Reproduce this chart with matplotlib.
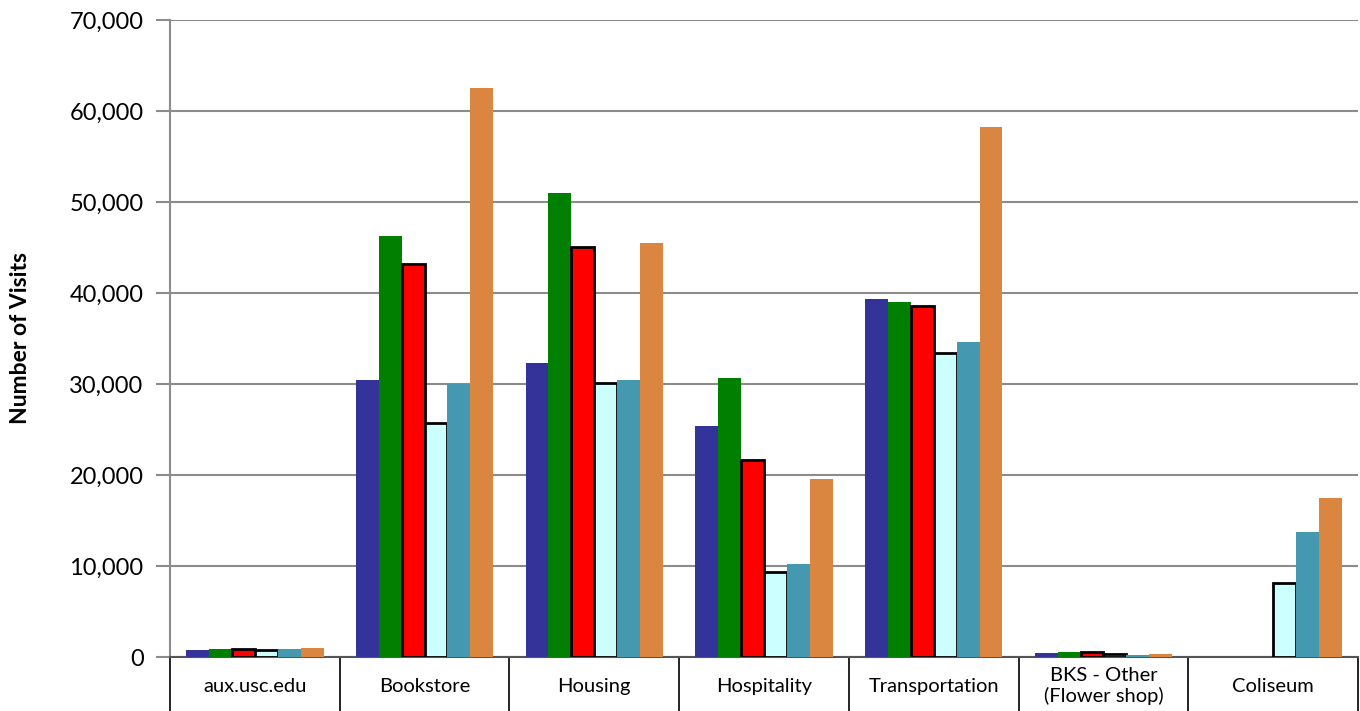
import numpy as np
import matplotlib.pyplot as plt
import matplotlib.ticker as ticker

plt.rcParams['font.family'] = ['Lato', 'DejaVu Sans']

categories = ['aux.usc.edu', 'Bookstore', 'Housing', 'Hospitality',
              'Transportation', 'BKS - Other\n(Flower shop)', 'Coliseum']

# six series, one per bar colour (left to right inside each group)
s1 = [800, 30450, 32300, 25400, 39350, 400, 0]
s2 = [900, 46250, 51000, 30700, 39050, 550, 0]
s3 = [900, 43200, 45050, 21650, 38550, 600, 0]
s4 = [800, 25700, 30100, 9300, 33400, 300, 8150]
s5 = [900, 30000, 30450, 10200, 34600, 200, 13700]
s6 = [1000, 62550, 45500, 19600, 58250, 300, 17500]
series = [s1, s2, s3, s4, s5, s6]

col = ['#343399', '#007f00', '#ff0000', '#ccffff', '#4499b0', '#db8640']
edge = [None, None, 'black', 'black', None, None]

fig = plt.figure(figsize=(13.6, 7.11), dpi=100)
ax = fig.add_axes([170/1360, 1-657/711, 1188/1360, 637/711])

x = np.arange(len(categories))
w = 0.135
for i, s in enumerate(series):
    off = (i - 2.5) * w
    if edge[i]:
        # no outline on empty bars
        lw = [2 if v > 0 else 0 for v in s]
        ax.bar(x + off, s, w, color=col[i], edgecolor=edge[i], linewidth=lw, zorder=3)
    else:
        ax.bar(x + off, s, w, color=col[i], linewidth=0, zorder=3)

ax.set_xlim(-0.5, len(categories) - 0.5)
ax.set_ylim(0, 70000)
ax.yaxis.set_major_locator(ticker.MultipleLocator(10000))
ax.yaxis.set_major_formatter(ticker.FuncFormatter(lambda v, pos: '{:,.0f}'.format(v)))
ax.grid(axis='y', color='#8c8c8c', linewidth=1.5, zorder=0)
ax.tick_params(axis='y', length=10, width=1.5, color='#8c8c8c', labelsize=17, pad=9)
ax.tick_params(axis='x', length=0, labelbottom=False)
for sp in ['top', 'right']:
    ax.spines[sp].set_visible(False)
ax.spines['left'].set_color('#8c8c8c')
ax.spines['left'].set_linewidth(1.5)
ax.spines['bottom'].set_color('#555555')
ax.spines['bottom'].set_linewidth(1.5)

# table-like category boxes under the axis
trans = ax.get_xaxis_transform()
for k in range(len(categories) + 1):
    ax.plot([k - 0.5, k - 0.5], [0, -0.1], color='black', linewidth=1.2,
            transform=trans, clip_on=False)
for i, c in enumerate(categories):
    ax.text(i, -0.046, c, ha='center', va='center', fontsize=14.5,
            transform=trans, linespacing=1.2)
ax.plot([-0.515, -0.5], [0, 0], color='#8c8c8c', linewidth=1.5,
        transform=trans, clip_on=False)

ax.set_ylabel('Number of Visits', fontsize=16.5, fontweight='bold')
ax.yaxis.set_label_coords(-0.117, 0.5)

plt.savefig('out.png', dpi=100)
